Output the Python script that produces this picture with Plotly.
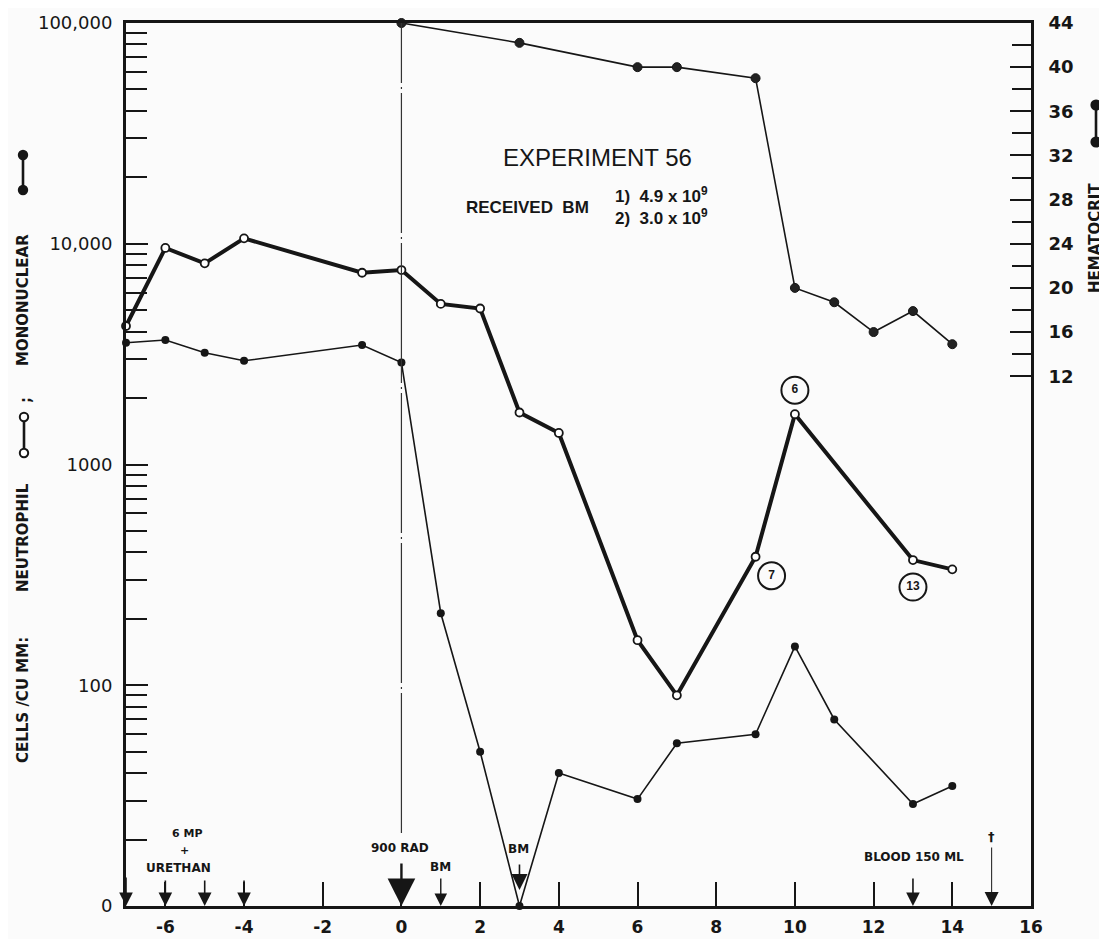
import numpy as np
import plotly.graph_objects as go

# ---------------- data ----------------
days_neut = [-7, -6, -5, -4, -1, 0, 1, 2, 3, 4, 6, 7, 9, 10, 13, 14]
neutrophil = [4240, 9570, 8150, 10580, 7390, 7600, 5340, 5090, 1720, 1390, 160, 90, 382, 1690, 369, 335]

days_mono = [-7, -6, -5, -4, -1, 0, 1, 2, 3, 4, 6, 7, 9, 10, 11, 13, 14]
mononuclear = [3560, 3665, 3210, 2950, 3480, 2900, 212, 50, 0, 40, 30.5, 54.6, 60, 150, 70, 29, 35]

days_hct = [0, 3, 6, 7, 9, 10, 11, 12, 13, 14]
hematocrit = [44, 42.2, 40, 40, 39, 20, 18.7, 16, 17.9, 14.9]

# circled sample numbers on the neutrophil curve: day, label
circled_days = [10, 9, 13]
circled_labels = ["6", "7", "13"]

# treatment events along the time axis
event_days = [-7, -6, -5, -4, 0, 1, 3, 13, 15]

x_ticks = [-6, -4, -2, 0, 2, 4, 6, 8, 10, 12, 14, 16]
x_ticktext = ["-6", "-4", "-2", "0", "2", "4", "6", "8", "10", "12", "14", "16"]
y_ticks = [10, 100, 1000, 10000, 100000]
y_ticktext = ["0", "100", "1000", "10,000", "100,000"]
hct_ticks = [12, 16, 20, 24, 28, 32, 36, 40, 44]
hct_minor = [14, 18, 22, 26, 30, 34, 38, 42]

# zero counts are drawn on the baseline labelled "0" (= 10 on the log scale)
mono_plot = [v if v > 0 else 10 for v in mononuclear]

INK = "#161616"
FONT = "DejaVu Sans"
SANS = "Liberation Sans"

# the page body has an 8 px margin, so the figure is drawn 8 px in from the window corner
OFF = 8
W, H = 1107, 939
PL, PR, PT, PB = 126, 1031, 23, 906          # plot area in window pixels
L, R, T, B = PL - OFF, W - (PR - OFF), PT - OFF, H - (PB - OFF)
PW, PH = PR - PL, PB - PT
X0, X1 = -7, 16
PX_PER_DAY = PW / (X1 - X0)
PX_PER_DECADE = PH / 4


def px(xp):
    return (xp - PL) / PW


def py(yp):
    return (PB - yp) / PH


fig = go.Figure()

fig.add_trace(go.Scatter(
    x=days_hct, y=hematocrit, yaxis="y2", mode="lines+markers",
    line=dict(color=INK, width=1.6),
    marker=dict(size=9, color="#222", line=dict(color=INK, width=1)),
    cliponaxis=False, showlegend=False))

fig.add_trace(go.Scatter(
    x=days_mono, y=mono_plot, mode="lines+markers",
    line=dict(color=INK, width=1.6),
    marker=dict(size=8, color=INK),
    cliponaxis=False, showlegend=False))

fig.add_trace(go.Scatter(
    x=days_neut, y=neutrophil, mode="lines+markers",
    line=dict(color=INK, width=4),
    marker=dict(size=8, color="white", line=dict(color=INK, width=1.8)),
    cliponaxis=False, showlegend=False))

# circled sample numbers, offset from their points by a few pixels
offsets = {"6": (0, -24), "7": (16, 19), "13": (0, 27)}
cx, cy = [], []
for day, lab in zip(circled_days, circled_labels):
    val = neutrophil[days_neut.index(day)]
    dx, dy = offsets[lab]
    cx.append(day + dx / PX_PER_DAY)
    cy.append(val * 10 ** (-dy / PX_PER_DECADE))
fig.add_trace(go.Scatter(
    x=cx, y=cy, mode="markers+text", text=circled_labels, textposition="middle center",
    textfont=dict(family=SANS, size=12, color=INK, weight="bold"),
    marker=dict(symbol="circle-open", size=27, color=INK, line=dict(width=2)),
    cliponaxis=False, showlegend=False))

minor_log = [m * 10 ** e for e in range(1, 5) for m in range(2, 10)]

fig.update_layout(
    width=W, height=H,
    margin=dict(l=L, r=R, t=T, b=B, autoexpand=False),
    paper_bgcolor="#fbfbfb", plot_bgcolor="#fbfbfb",
    xaxis=dict(range=[X0, X1], tickmode="array", tickvals=x_ticks, ticktext=x_ticktext,
               ticks="inside", ticklen=24, tickwidth=1.8, tickcolor=INK,
               showline=True, linewidth=3, linecolor=INK, mirror=True, automargin=False,
               showgrid=False, zeroline=False, ticklabelstandoff=4,
               tickfont=dict(family=FONT, size=17, color=INK, weight="bold")),
    yaxis=dict(type="log", range=[1, 5], tickmode="array", tickvals=y_ticks, ticktext=y_ticktext,
               ticks="inside", ticklen=22, tickwidth=2.4, tickcolor=INK,
               minor=dict(tickvals=minor_log, ticks="inside", ticklen=21, tickwidth=2.4, tickcolor=INK),
               showline=True, linewidth=3, linecolor=INK, automargin=False,
               showgrid=False, zeroline=False, ticklabelstandoff=7,
               tickfont=dict(family=FONT, size=18, color=INK)),
    yaxis2=dict(overlaying="y", side="right", range=[-36, 44], tickmode="array",
                tickvals=hct_ticks, ticks="inside", ticklen=21, tickwidth=2.2, tickcolor=INK,
                minor=dict(tickvals=hct_minor, ticks="inside", ticklen=19, tickwidth=2.2, tickcolor=INK),
                showline=True, linewidth=3, linecolor=INK, automargin=False,
                showgrid=False, zeroline=False, ticklabelstandoff=11,
                tickfont=dict(family=FONT, size=18, color=INK, weight="bold")),
)

shapes = []
# dash-dot irradiation line at day 0
shapes.append(dict(type="line", xref="x", yref="paper", x0=0, x1=0, y0=py(833), y1=1,
                   line=dict(color="#333", width=1.2, dash="140px,4px,2px,4px")))


def legend_symbol(cxp, ytop, ybot, filled, r=4.2):
    out = [dict(type="line", xref="paper", yref="paper", x0=px(cxp), x1=px(cxp), y0=py(ytop), y1=py(ybot),
                line=dict(color=INK, width=2.6))]
    for yc in (ytop, ybot):
        out.append(dict(type="circle", xref="paper", yref="paper",
                        x0=px(cxp - r), x1=px(cxp + r), y0=py(yc + r), y1=py(yc - r),
                        fillcolor=INK if filled else "white", line=dict(color=INK, width=2)))
    return out


shapes += legend_symbol(23, 155, 190, True)
shapes += legend_symbol(24, 417, 453, False)
shapes += legend_symbol(1096, 105, 142, True, r=4.6)

annotations = []


def text(xp, yp, s, size=12, bold=True, angle=0, family=FONT, anchor="center"):
    annotations.append(dict(xref="paper", yref="paper", x=px(xp), y=py(yp), text=s, showarrow=False,
                            textangle=angle, xanchor=anchor, yanchor="middle",
                            font=dict(family=family, size=size, color=INK,
                                      weight="bold" if bold else "normal")))


# axis titles
text(23, 700, "CELLS /CU MM:", 15, True, -90)
text(23, 538, "NEUTROPHIL", 15, True, -90)
text(26, 400, ";", 15, True, -90)
text(23, 300, "MONONUCLEAR", 15, True, -90)
text(1095, 238, "HEMATOCRIT", 15, True, -90)

# headline texts
text(597, 158, "EXPERIMENT 56", 24, False, family=SANS)
text(527, 208, "RECEIVED  BM", 17, True, family=SANS)
text(613, 195, "1)  4.9 x 10<sup>9</sup>", 17, True, family=SANS, anchor="left")
text(613, 217, "2)  3.0 x 10<sup>9</sup>", 17, True, family=SANS, anchor="left")

# event labels
text(187, 833, "6 MP", 11)
text(184, 850, "+", 11)
text(178, 868, "URETHAN", 12)
text(400, 848, "900 RAD", 12)
text(440, 867, "BM", 12)
text(518, 849, "BM", 12)
text(914, 857, "BLOOD 150 ML", 12)
text(991, 836, "†", 13)

# event arrows
arrow_style = {
    -7: dict(tail=876, tip=906, w=1.6, s=1.7),
    -6: dict(tail=879, tip=906, w=1.6, s=1.7),
    -5: dict(tail=879, tip=906, w=1.6, s=1.7),
    -4: dict(tail=879, tip=906, w=1.6, s=1.7),
    0: dict(tail=862, tip=906, w=2.4, s=2.3),
    1: dict(tail=877, tip=906, w=1.4, s=1.8),
    3: dict(tail=863, tip=890, w=1.6, s=2.0),
    13: dict(tail=877, tip=906, w=1.6, s=1.7),
    15: dict(tail=846, tip=906, w=1.0, s=2.8),
}
for d in event_days:
    st = arrow_style[d]
    annotations.append(dict(xref="x", yref="paper", x=d, y=py(st["tip"]), text="", showarrow=True,
                            ax=0, ay=st["tail"] - st["tip"], axref="pixel", ayref="pixel",
                            arrowhead=2, arrowwidth=st["w"], arrowsize=st["s"], arrowcolor=INK))

fig.update_layout(shapes=shapes, annotations=annotations)

fig.write_html("out.html")
